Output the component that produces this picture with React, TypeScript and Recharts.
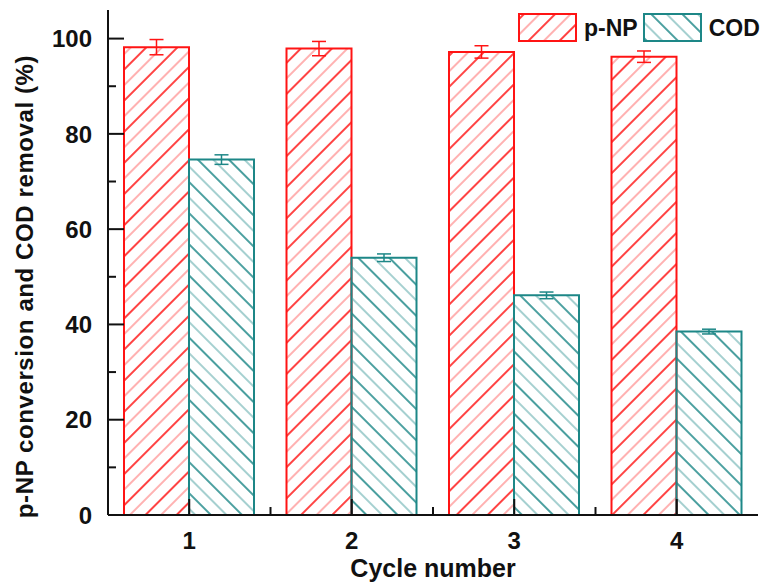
import { BarChart, Bar, XAxis, YAxis, ErrorBar, Legend, ReferenceLine } from 'recharts';

const cycles = ['1', '2', '3', '4'];
const pnpConversion = [98.2, 97.9, 97.2, 96.2];
const pnpError = [1.6, 1.5, 1.3, 1.2];
const codRemoval = [74.6, 54.0, 46.1, 38.5];
const codError = [1.0, 0.8, 0.7, 0.5];
const yTicks = [0, 10, 20, 30, 40, 50, 60, 70, 80, 90, 100];

const RED = '#ff1414';
const RED_LIGHT = '#ff9090';
const TEAL = '#1d8787';
const TEAL_LIGHT = '#7fbcbc';
const INK = '#111';
const FONT = '"Liberation Sans", Arial, sans-serif';
const Y_DOMAIN: [number, number] = [0, 106];

const chartData = cycles.map((cycle, i) => ({
  cycle,
  pnp: pnpConversion[i],
  pnpErr: pnpError[i],
  cod: codRemoval[i],
  codErr: codError[i],
}));

const isMajor = (v: number) => v % 20 === 0;

function HatchDefs({ prefix }: { prefix: string }) {
  return (
    <defs>
      <pattern id={`${prefix}-red`} patternUnits="userSpaceOnUse" width={22} height={22} patternTransform="rotate(45)">
        <line x1={5} y1={0} x2={5} y2={22} stroke={RED} strokeWidth={1.6} />
        <line x1={16} y1={0} x2={16} y2={22} stroke={RED_LIGHT} strokeWidth={1.4} />
      </pattern>
      <pattern id={`${prefix}-teal`} patternUnits="userSpaceOnUse" width={22} height={22} patternTransform="rotate(-45)">
        <line x1={5} y1={0} x2={5} y2={22} stroke={TEAL} strokeWidth={1.6} />
        <line x1={16} y1={0} x2={16} y2={22} stroke={TEAL_LIGHT} strokeWidth={1.4} />
      </pattern>
    </defs>
  );
}

const X_MARGIN = 20;

function XTick(props: any) {
  const x = Number(props.x);
  const y = Number(props.y);
  const { payload, index } = props;
  const axisY = y - X_MARGIN;
  const half = Number(payload.offset) || 0;
  return (
    <g>
      <path d={`M${x},${axisY}V${axisY - 16}`} stroke={INK} strokeWidth={2} fill="none" />
      {index < cycles.length - 1 && (
        <path d={`M${x + half},${axisY}V${axisY - 8}`} stroke={INK} strokeWidth={2} fill="none" />
      )}
      <text x={x} y={y} dy="0.6em" textAnchor="middle" fontSize={24} fontWeight="bold" fontFamily={FONT} fill={INK}>
        {payload.value}
      </text>
    </g>
  );
}

function YTick(props: any) {
  const value = Number(props.payload.value);
  if (!isMajor(value)) return <g />;
  return (
    <text x={props.x} y={props.y} dy="0.36em" textAnchor="end" fontSize={24} fontWeight="bold" fontFamily={FONT} fill={INK}>
      {value}
    </text>
  );
}

function YTitle(props: any) {
  const vb = props.viewBox || {};
  const cx = (vb.x || 0) + 24;
  const cy = (vb.y || 0) + (vb.height || 0) / 2 + 24;
  return (
    <text
      x={cx}
      y={cy}
      transform={`rotate(-90 ${cx} ${cy})`}
      textAnchor="middle"
      dominantBaseline="central"
      fontSize={24}
      fontWeight="bold"
      fontFamily={FONT}
      fill={INK}
      letterSpacing={0.6}
    >
      p-NP conversion and COD removal (%)
    </text>
  );
}

function LegendBox() {
  const items = [
    { label: 'p-NP', fill: 'url(#lg-red)', stroke: RED },
    { label: 'COD', fill: 'url(#lg-teal)', stroke: TEAL },
  ];
  return (
    <div style={{ display: 'flex', alignItems: 'center', fontFamily: FONT, whiteSpace: 'nowrap' }}>
      {items.map((it) => (
        <div key={it.label} style={{ display: 'flex', alignItems: 'center', marginRight: 5, flexShrink: 0 }}>
          <svg width={60} height={30} style={{ flexShrink: 0 }}>
            <HatchDefs prefix="lg" />
            <rect x={1} y={1} width={57} height={27} fill={it.fill} stroke={it.stroke} strokeWidth={2} />
          </svg>
          <span style={{ fontSize: 23, fontWeight: 'bold', color: INK, marginLeft: 6 }}>{it.label}</span>
        </div>
      ))}
    </div>
  );
}

export default function App() {
  return (
    <div style={{ position: 'absolute', left: 0, top: 0, background: '#fff' }}>
      <BarChart
        width={763}
        height={587}
        data={chartData}
        margin={{ top: 10, right: 5, bottom: 0, left: 0 }}
        barCategoryGap={16}
        barGap={0}
      >
        <HatchDefs prefix="bar" />
        <Bar dataKey="pnp" name="p-NP" fill="url(#bar-red)" stroke={RED} strokeWidth={2} isAnimationActive={false}>
          <ErrorBar dataKey="pnpErr" direction="y" width={7} stroke={RED} strokeWidth={1.5} />
        </Bar>
        <Bar dataKey="cod" name="COD" fill="url(#bar-teal)" stroke={TEAL} strokeWidth={2} isAnimationActive={false}>
          <ErrorBar dataKey="codErr" direction="y" width={7} stroke={TEAL} strokeWidth={1.5} />
        </Bar>
        {/* inward tick marks on the left frame: a single dash at the start of each line */}
        {yTicks.map((v) => (
          <ReferenceLine
            key={v}
            y={v}
            stroke={INK}
            strokeWidth={2}
            strokeDasharray={`${isMajor(v) ? 16 : 8} 2000`}
          />
        ))}
        <XAxis
          dataKey="cycle"
          height={72}
          axisLine={{ stroke: INK, strokeWidth: 2 }}
          tickLine={false}
          tickSize={0}
          tickMargin={X_MARGIN}
          tick={<XTick />}
          interval={0}
          label={{
            value: 'Cycle number',
            position: 'insideBottom',
            offset: 10,
            style: { fontSize: 25, fontWeight: 'bold', fontFamily: FONT, fill: INK },
          }}
        />
        <XAxis
          xAxisId="top"
          dataKey="cycle"
          orientation="top"
          height={0}
          tick={false}
          tickLine={false}
          axisLine={{ stroke: INK, strokeWidth: 2 }}
        />
        <YAxis
          type="number"
          domain={Y_DOMAIN}
          ticks={yTicks}
          width={108}
          axisLine={{ stroke: INK, strokeWidth: 2 }}
          tickLine={false}
          tickSize={0}
          tickMargin={16}
          interval={0}
          tick={<YTick />}
          label={<YTitle />}
        />
        <YAxis
          yAxisId="right"
          orientation="right"
          type="number"
          domain={Y_DOMAIN}
          width={0}
          tick={false}
          tickLine={false}
          axisLine={{ stroke: INK, strokeWidth: 2 }}
        />
        <Legend
          layout="horizontal"
          verticalAlign="middle"
          align="center"
          wrapperStyle={{ top: 13, left: 518, width: 262 }}
          content={<LegendBox />}
        />
      </BarChart>
    </div>
  );
}
